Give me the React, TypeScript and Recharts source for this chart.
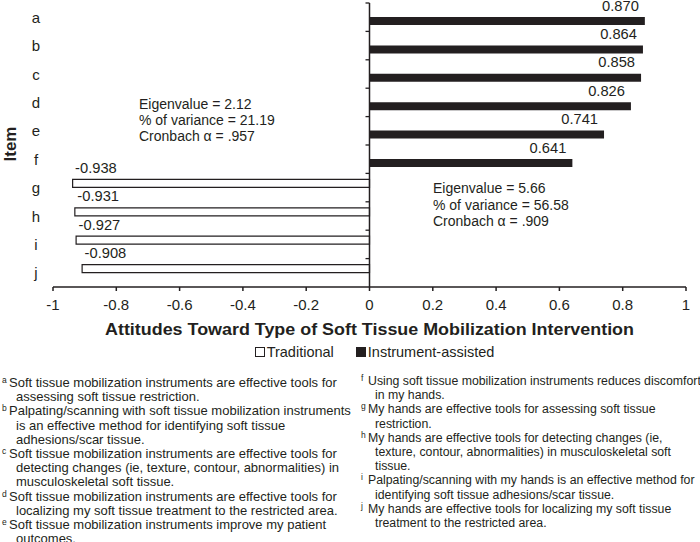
import React from "react";
import {
  BarChart,
  Bar,
  XAxis,
  YAxis,
  ReferenceLine,
  LabelList,
} from "recharts";

const items = ["a", "b", "c", "d", "e", "f", "g", "h", "i", "j"];
const traditional = [null, null, null, null, null, null, -0.938, -0.931, -0.927, -0.908];
const instrument = [0.87, 0.864, 0.858, 0.826, 0.741, 0.641, null, null, null, null];
const xTicks = [-1, -0.8, -0.6, -0.4, -0.2, 0, 0.2, 0.4, 0.6, 0.8, 1];

const leftStats = ["Eigenvalue = 2.12", "% of variance = 21.19", "Cronbach \u03b1 = .957"];
const rightStats = ["Eigenvalue = 5.66", "% of variance = 56.58", "Cronbach \u03b1 = .909"];

const leftNotes = [
  { key: "a", lines: ["Soft tissue mobilization instruments are effective tools for", "assessing soft tissue restriction."] },
  { key: "b", lines: ["Palpating/scanning with soft tissue mobilization instruments", "is an effective method for identifying soft tissue", "adhesions/scar tissue."] },
  { key: "c", lines: ["Soft tissue mobilization instruments are effective tools for", "detecting changes (ie, texture, contour, abnormalities) in", "musculoskeletal soft tissue."] },
  { key: "d", lines: ["Soft tissue mobilization instruments are effective tools for", "localizing my soft tissue treatment to the restricted area."] },
  { key: "e", lines: ["Soft tissue mobilization instruments improve my patient", "outcomes."] },
];
const rightNotes = [
  { key: "f", lines: ["Using soft tissue mobilization instruments reduces discomfort", "in my hands."] },
  { key: "g", lines: ["My hands are effective tools for assessing soft tissue", "restriction."] },
  { key: "h", lines: ["My hands are effective tools for detecting changes (ie,", "texture, contour, abnormalities) in musculoskeletal soft", "tissue."] },
  { key: "i", lines: ["Palpating/scanning with my hands is an effective method for", "identifying soft tissue adhesions/scar tissue."] },
  { key: "j", lines: ["My hands are effective tools for localizing my soft tissue", "treatment to the restricted area."] },
];

const data = items.map((item, i) => ({
  item,
  traditional: traditional[i],
  instrument: instrument[i],
}));

const FONT = '"Liberation Sans", Arial, Helvetica, sans-serif';
const INK = "#231f20";
const PLOT_LEFT = 53;
const PLOT_RIGHT = 686;
const PLOT_TOP = 3;
const PLOT_BOTTOM = 287;
const ZERO_X = (PLOT_LEFT + PLOT_RIGHT) / 2;
const BAND = (PLOT_BOTTOM - PLOT_TOP) / items.length;

function ItemTick({ y, payload }: any) {
  return (
    <g>
      <text
        x={36}
        y={y}
        textAnchor="middle"
        dominantBaseline="central"
        fontSize={15}
        fill={INK}
        fontFamily={FONT}
      >
        {payload.value}
      </text>
      <line
        x1={ZERO_X - 4}
        x2={ZERO_X}
        y1={y - BAND / 2}
        y2={y - BAND / 2}
        stroke={INK}
        strokeWidth={1.3}
      />
    </g>
  );
}

function ValueLabel({ x, y, width, height, value }: any) {
  if (value === null || value === undefined) return null;
  const left = Math.min(x, x + width);
  const right = Math.max(x, x + width);
  const top = Math.min(y, y + height);
  const pos = value >= 0;
  return (
    <text
      x={pos ? right - 6 : left + 2.5}
      y={top - 6.5}
      textAnchor={pos ? "end" : "start"}
      fontSize={14.7}
      fill={INK}
      fontFamily={FONT}
    >
      {value.toFixed(3)}
    </text>
  );
}

function TitleLabel() {
  return (
    <text
      x={369.5}
      y={335}
      textAnchor="middle"
      fontSize={17}
      fontWeight="bold"
      fill={INK}
      fontFamily={FONT}
      textLength={529}
      lengthAdjust="spacingAndGlyphs"
    >
      Attitudes Toward Type of Soft Tissue Mobilization Intervention
    </text>
  );
}

function Footnotes({
  notes,
  left,
  top,
  size,
}: {
  notes: typeof leftNotes;
  left: number;
  top: number;
  size: number;
}) {
  return (
    <div style={{ position: "absolute", left, top, fontFamily: FONT, fontSize: size, color: INK, lineHeight: "14.2px" }}>
      {notes.map((n) => (
        <div key={n.key}>
          {n.lines.map((line, i) => (
            <div key={i} style={{ whiteSpace: "nowrap", position: "relative", paddingLeft: i === 0 ? 7 : 14 }}>
              {i === 0 && (
                <span style={{ position: "absolute", left: 0, top: -3, fontSize: 8.5 }}>{n.key}</span>
              )}
              {line}
            </div>
          ))}
        </div>
      ))}
    </div>
  );
}

export default function App() {
  return (
    <div style={{ position: "relative", width: 700, height: 542, background: "#fff", overflow: "hidden" }}>
      <style>{`body{margin:0;}`}</style>
      <div style={{ position: "absolute", left: 0, top: 0 }}>
        <BarChart
          width={700}
          height={345}
          data={data}
          layout="vertical"
          margin={{ top: PLOT_TOP, right: 700 - PLOT_RIGHT, bottom: 0, left: 0 }}
          barSize={8}
          barGap={0}
        >
          <XAxis
            type="number"
            domain={[-1, 1]}
            ticks={xTicks}
            tickFormatter={(v: number) => String(v)}
            tickSize={4}
            tickMargin={8}
            height={58}
            stroke={INK}
            strokeWidth={1.5}
            tick={{ fontSize: 15, fill: INK, fontFamily: FONT }}
            label={<TitleLabel />}
          />
          <YAxis
            type="category"
            dataKey="item"
            width={PLOT_LEFT}
            axisLine={false}
            tickLine={false}
            interval={0}
            tick={<ItemTick />}
          />
          <ReferenceLine x={0} stroke={INK} strokeWidth={1.5} />
          <Bar
            dataKey="traditional"
            name="Traditional"
            fill="#ffffff"
            stroke={INK}
            strokeWidth={1.2}
            isAnimationActive={false}
          >
            <LabelList dataKey="traditional" content={<ValueLabel />} />
          </Bar>
          <Bar
            dataKey="instrument"
            name="Instrument-assisted"
            fill={INK}
            isAnimationActive={false}
          >
            <LabelList dataKey="instrument" content={<ValueLabel />} />
          </Bar>
        </BarChart>
      </div>

      <svg
        width={700}
        height={345}
        style={{ position: "absolute", left: 0, top: 0, pointerEvents: "none" }}
      >
        <text
          transform="translate(16,144) rotate(-90)"
          textAnchor="middle"
          fontSize={17}
          fontWeight="bold"
          fill={INK}
          fontFamily={FONT}
        >
          Item
        </text>
        {leftStats.map((s, i) => (
          <text key={s} x={139} y={109 + i * 16} fontSize={14} fill={INK} fontFamily={FONT}>
            {s}
          </text>
        ))}
        {rightStats.map((s, i) => (
          <text key={s} x={433} y={193 + i * 16.5} fontSize={14} fill={INK} fontFamily={FONT}>
            {s}
          </text>
        ))}
      </svg>

      <div
        style={{
          position: "absolute",
          left: 0,
          width: 700,
          top: 344,
          display: "flex",
          justifyContent: "center",
          fontFamily: FONT,
          fontSize: 14.5,
          color: INK,
          gap: 22,
          paddingLeft: 49,
          boxSizing: "border-box",
        }}
      >
        <span style={{ display: "flex", alignItems: "center" }}>
          <span style={{ width: 8, height: 8, border: `1.3px solid ${INK}`, background: "#fff", marginRight: 2 }} />
          Traditional
        </span>
        <span style={{ display: "flex", alignItems: "center" }}>
          <span style={{ width: 10, height: 10, background: INK, marginRight: 2 }} />
          Instrument-assisted
        </span>
      </div>

      <Footnotes notes={leftNotes} left={2} top={376} size={13} />
      <Footnotes notes={rightNotes} left={361} top={374} size={12.3} />
    </div>
  );
}
